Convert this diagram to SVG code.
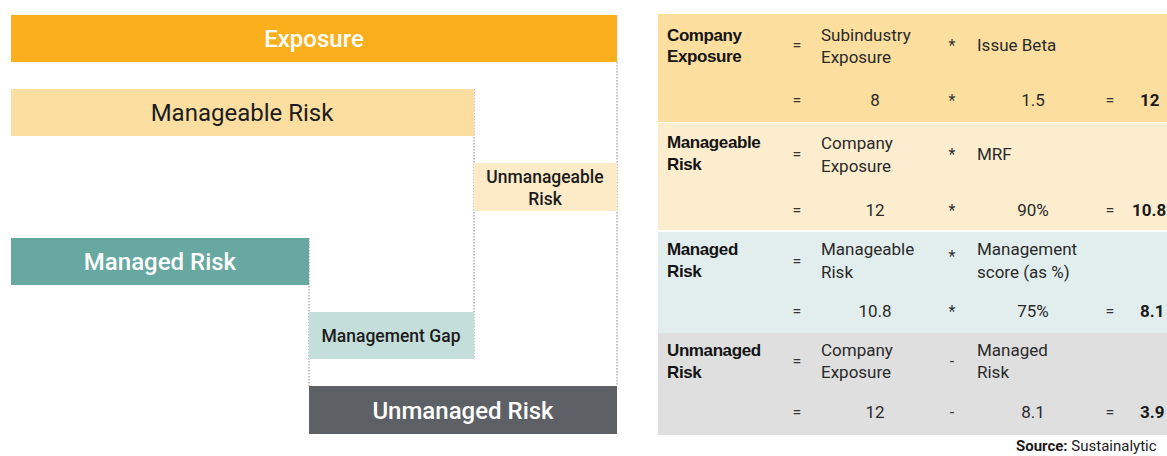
<svg xmlns="http://www.w3.org/2000/svg" width="1167" height="456" viewBox="0 0 1167 456">
<style>
.big{font-family:Roboto,"Liberation Sans",sans-serif;font-size:24px;font-weight:500;text-anchor:middle}
.sm{font-family:Roboto,"Liberation Sans",sans-serif;font-size:17.5px;font-weight:500;text-anchor:middle;fill:#1c1c1c}
.w{fill:#ffffff}
.d{fill:#1c1c1c;font-weight:400}
.lbl{font-family:"Liberation Sans",Arial,sans-serif;font-size:17px;font-weight:700;fill:#141414;letter-spacing:-0.4px}
.t{font-family:Roboto,"Liberation Sans",sans-serif;font-size:17px;fill:#2a2a2a}
.c{text-anchor:middle}
.op{font-family:Roboto,"Liberation Sans",sans-serif;font-size:16px;fill:#333;text-anchor:middle}
.res{font-family:Roboto,"Liberation Sans",sans-serif;font-size:17px;font-weight:700;fill:#1a1a1a}
.dot{stroke:#8a8a8a;stroke-width:1;stroke-dasharray:1.5 1.5;fill:none}
</style>
<rect width="1167" height="456" fill="#ffffff"/>
<g id="connectors">
<line class="dot" x1="617" y1="62" x2="617" y2="386"/>
<line class="dot" x1="474" y1="89" x2="474" y2="359"/>
<line class="dot" x1="309" y1="238" x2="309" y2="386"/>
</g>
<g id="exposure">
<rect x="11" y="15" width="606" height="47" fill="#FBAF1C"/>
<text class="big w" x="314" y="47">Exposure</text>
</g>
<g id="manageable-risk">
<rect x="11" y="89" width="463" height="47" fill="#FCDFA0"/>
<text class="big d" x="242" y="121">Manageable Risk</text>
</g>
<g id="unmanageable-risk">
<rect x="474" y="163" width="143" height="48" fill="#FDEBC8"/>
<text class="sm" x="545" y="183">Unmanageable</text>
<text class="sm" x="545" y="205">Risk</text>
</g>
<g id="managed-risk">
<rect x="11" y="238" width="298" height="47" fill="#67A8A1"/>
<text class="big w" x="160" y="270">Managed Risk</text>
</g>
<g id="management-gap">
<rect x="309" y="312" width="165" height="47" fill="#C4DFDB"/>
<text class="sm" x="391" y="342">Management Gap</text>
</g>
<g id="unmanaged-risk">
<rect x="309" y="386" width="308" height="48" fill="#5D6165"/>
<text class="big w" x="463" y="419">Unmanaged Risk</text>
</g>
<g id="table">
<g id="row-company-exposure">
<rect x="658" y="14" width="509" height="108" fill="#FCDE9E"/>
<text class="lbl" x="667" y="41">Company</text>
<text class="lbl" x="667" y="62">Exposure</text>
<text class="op" x="797" y="51">=</text>
<text class="t" x="821" y="41">Subindustry</text>
<text class="t" x="821" y="63">Exposure</text>
<text class="op" x="952" y="51">*</text>
<text class="t" x="977" y="51">Issue Beta</text>
<text class="op" x="797" y="106">=</text>
<text class="t c" x="875" y="106">8</text>
<text class="op" x="952" y="106">*</text>
<text class="t c" x="1033" y="106">1.5</text>
<text class="op" x="1110" y="106">=</text>
<text class="res" x="1140" y="106">12</text>
</g>
<g id="row-manageable-risk">
<rect x="658" y="123" width="509" height="107" fill="#FDEDCF"/>
<text class="lbl" x="667" y="148">Manageable</text>
<text class="lbl" x="667" y="170">Risk</text>
<text class="op" x="797" y="160">=</text>
<text class="t" x="821" y="149">Company</text>
<text class="t" x="821" y="172">Exposure</text>
<text class="op" x="952" y="160">*</text>
<text class="t" x="977" y="160">MRF</text>
<text class="op" x="797" y="216">=</text>
<text class="t c" x="875" y="216">12</text>
<text class="op" x="952" y="216">*</text>
<text class="t c" x="1033" y="216">90%</text>
<text class="op" x="1110" y="216">=</text>
<text class="res" x="1132" y="216">10.8</text>
</g>
<g id="row-managed-risk">
<rect x="658" y="232" width="509" height="101" fill="#E2EEED"/>
<text class="lbl" x="667" y="255">Managed</text>
<text class="lbl" x="667" y="277">Risk</text>
<text class="op" x="797" y="267">=</text>
<text class="t" x="821" y="255">Manageable</text>
<text class="t" x="821" y="278">Risk</text>
<text class="op" x="952" y="262">*</text>
<text class="t" x="977" y="255">Management</text>
<text class="t" x="977" y="278">score (as %)</text>
<text class="op" x="797" y="317">=</text>
<text class="t c" x="875" y="317">10.8</text>
<text class="op" x="952" y="317">*</text>
<text class="t c" x="1033" y="317">75%</text>
<text class="op" x="1110" y="317">=</text>
<text class="res" x="1140" y="317">8.1</text>
</g>
<g id="row-unmanaged-risk">
<rect x="658" y="333" width="509" height="102" fill="#DFDFE0"/>
<text class="lbl" x="667" y="356">Unmanaged</text>
<text class="lbl" x="667" y="378">Risk</text>
<text class="op" x="797" y="367">=</text>
<text class="t" x="821" y="356">Company</text>
<text class="t" x="821" y="378">Exposure</text>
<text class="op" x="952" y="367">-</text>
<text class="t" x="977" y="356">Managed</text>
<text class="t" x="977" y="378">Risk</text>
<text class="op" x="797" y="418">=</text>
<text class="t c" x="875" y="418">12</text>
<text class="op" x="952" y="418">-</text>
<text class="t c" x="1033" y="418">8.1</text>
<text class="op" x="1110" y="418">=</text>
<text class="res" x="1140" y="418">3.9</text>
</g>
</g>
<g id="source">
<text x="1016" y="451" font-family="Roboto,'Liberation Sans',sans-serif" font-size="15px" fill="#1a1a1a"><tspan font-weight="700">Source:</tspan> Sustainalytic</text>
</g>
</svg>
